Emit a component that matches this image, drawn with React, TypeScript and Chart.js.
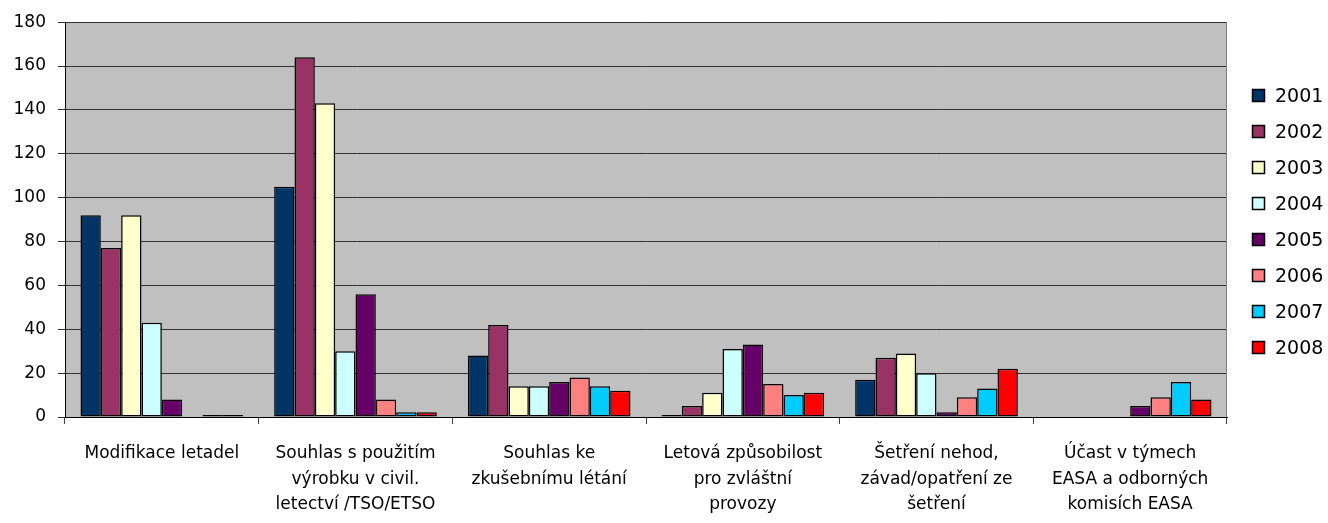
import React, { useEffect, useRef } from 'react';
import { Chart, registerables } from 'chart.js';

Chart.register(...registerables);

const categories: string[][] = [
  ['Modifikace letadel'],
  ['Souhlas s použitím', 'výrobku v civil.', 'letectví /TSO/ETSO'],
  ['Souhlas ke', 'zkušebnímu létání'],
  ['Letová způsobilost', 'pro zvláštní', 'provozy'],
  ['Šetření nehod,', 'závad/opatření ze', 'šetření'],
  ['Účast v týmech', 'EASA a odborných', 'komisích EASA'],
];

const years = ['2001', '2002', '2003', '2004', '2005', '2006', '2007', '2008'];
const colors = ['#003366', '#993366', '#FFFFCC', '#CCFFFF', '#660066', '#FF8080', '#00CCFF', '#FF0000'];

const v2001 = [92, 105, 28, 0.5, 17, null];
const v2002 = [77, 164, 42, 5, 27, null];
const v2003 = [92, 143, 14, 11, 29, null];
const v2004 = [43, 30, 14, 31, 20, null];
const v2005 = [8, 56, 16, 33, 2.2, 5];
const v2006 = [null, 8, 18, 15, 9, 9];
const v2007 = [0.5, 2.2, 14, 10, 13, 16];
const v2008 = [0.5, 2.2, 12, 11, 22, 8];

const seriesValues = [v2001, v2002, v2003, v2004, v2005, v2006, v2007, v2008];

const yMin = 0;
const yMax = 180;
const yStep = 20;

const FONT = 'DejaVu Sans';

const bgPlugin = {
  id: 'bgPlugin',
  beforeDraw(chart: any) {
    const { ctx, chartArea } = chart;
    ctx.save();
    ctx.fillStyle = '#FFFFFF';
    ctx.fillRect(0, 0, chart.width, chart.height);
    ctx.fillStyle = '#C0C0C0';
    ctx.fillRect(chartArea.left, chartArea.top, chartArea.right - chartArea.left, chartArea.bottom - chartArea.top);
    ctx.restore();
  },
  afterDraw(chart: any) {
    const { ctx, chartArea } = chart;
    ctx.save();
    ctx.strokeStyle = '#808080';
    ctx.lineWidth = 1;
    ctx.beginPath();
    ctx.moveTo(Math.round(chartArea.right) - 0.5, chartArea.top);
    ctx.lineTo(Math.round(chartArea.right) - 0.5, chartArea.bottom);
    ctx.stroke();
    ctx.restore();
  },
};

const legendPlugin = {
  id: 'customLegend',
  afterDraw(chart: any) {
    const { ctx, chartArea } = chart;
    const ds = chart.data.datasets;
    const spacing = 36;
    const center = (chartArea.top + chartArea.bottom) / 2 + 2;
    const startY = center - ((ds.length - 1) / 2) * spacing;
    const boxX = chartArea.right + 25.5;
    const textX = chartArea.right + 48;
    ctx.save();
    ctx.font = `19px "${FONT}"`;
    ctx.textBaseline = 'middle';
    ctx.textAlign = 'left';
    ds.forEach((d: any, i: number) => {
      const y = Math.round(startY + i * spacing);
      ctx.fillStyle = d.backgroundColor;
      ctx.fillRect(boxX, y - 6.5, 12, 12);
      ctx.strokeStyle = '#000000';
      ctx.lineWidth = 1.5;
      ctx.strokeRect(boxX, y - 6.5, 12, 12);
      ctx.fillStyle = '#000000';
      ctx.fillText(d.label, textX, y + 1);
    });
    ctx.restore();
  },
};

export default function App() {
  const ref = useRef<HTMLCanvasElement | null>(null);

  useEffect(() => {
    if (!ref.current) return;
    const chart = new Chart(ref.current, {
      type: 'bar',
      data: {
        labels: categories,
        datasets: years.map((y, i) => ({
          label: y,
          data: seriesValues[i],
          backgroundColor: colors[i],
          borderColor: '#000000',
          borderWidth: 1.5,
          borderSkipped: false,
          minBarLength: 2,
          categoryPercentage: 0.84,
          barPercentage: 1,
        })),
      },
      options: {
        responsive: false,
        animation: false,
        devicePixelRatio: 1,
        layout: { padding: { top: 21, right: 101, left: 0, bottom: 0 } },
        plugins: {
          legend: { display: false },
          tooltip: { enabled: false },
        },
        scales: {
          x: {
            grid: {
              display: true,
              offset: true,
              drawOnChartArea: false,
              drawTicks: true,
              tickLength: 7,
              color: '#404040',
            },
            border: { display: true, color: '#000000' },
            ticks: {
              color: '#000000',
              font: { family: FONT, size: 17, lineHeight: 1.5 },
              padding: 17,
              maxRotation: 0,
              minRotation: 0,
              autoSkip: false,
            },
            afterFit(scale: any) {
              scale.height = 106;
            },
          },
          y: {
            min: yMin,
            max: yMax,
            ticks: {
              stepSize: yStep,
              color: '#000000',
              font: { family: FONT, size: 17 },
              padding: 12,
            },
            grid: {
              color: '#303030',
              tickLength: 7,
              drawTicks: true,
            },
            border: { display: true, color: '#000000' },
            afterFit(scale: any) {
              scale.width = 65;
            },
          },
        },
      },
      plugins: [bgPlugin, legendPlugin],
    });
    return () => chart.destroy();
  }, []);

  return (
    <div style={{ position: 'fixed', left: 0, top: 0, width: 1328, height: 523, background: '#fff' }}>
      <canvas ref={ref} width={1328} height={523} style={{ display: 'block' }} />
    </div>
  );
}
